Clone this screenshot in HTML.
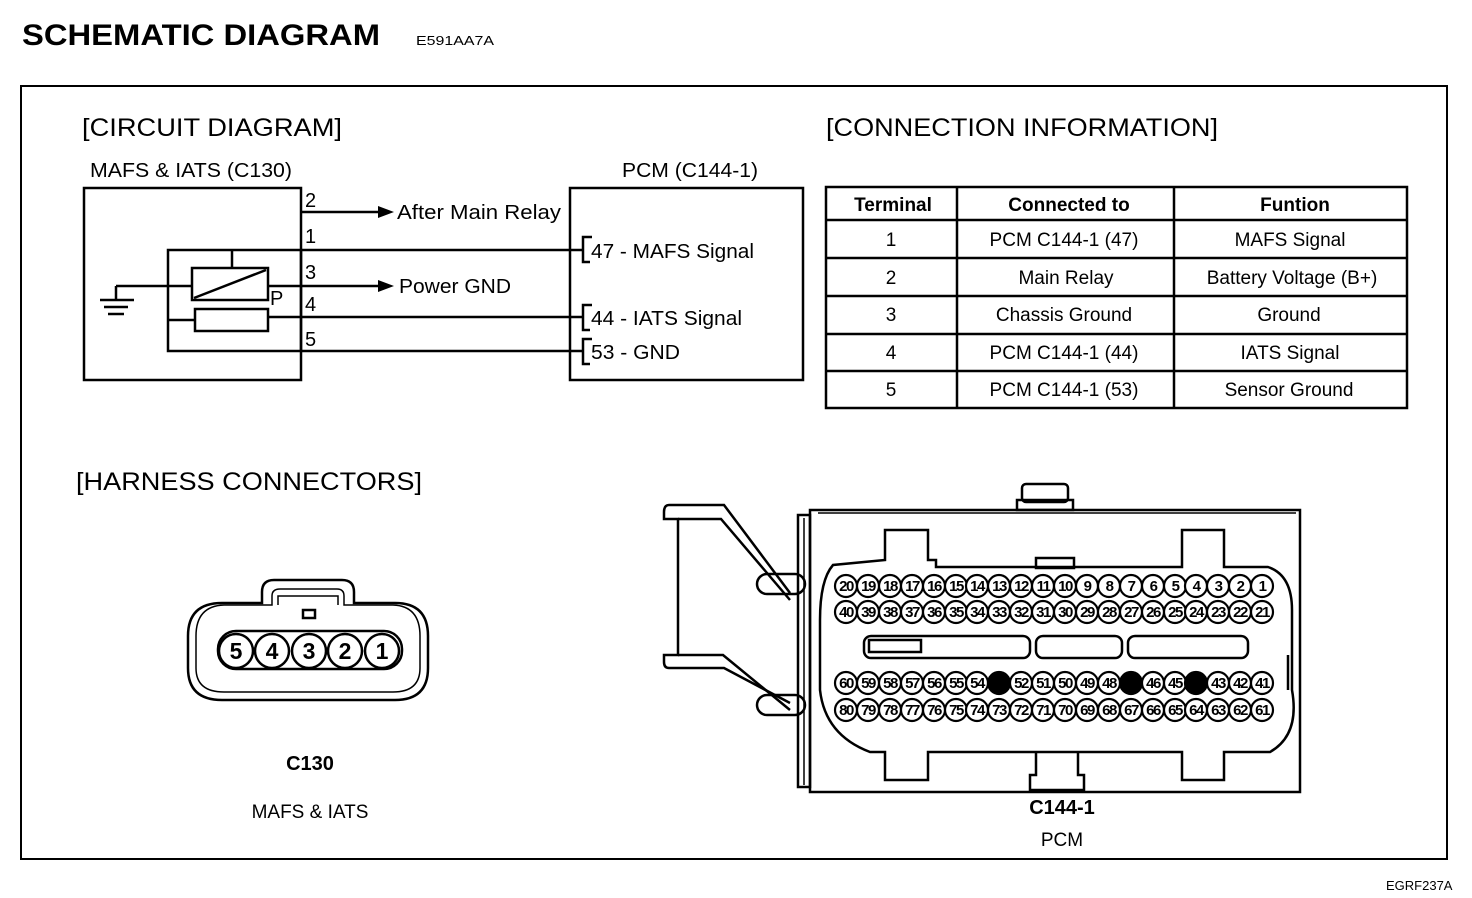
<!DOCTYPE html>
<html><head><meta charset="utf-8"><style>
html,body{margin:0;padding:0;background:#fff;}
svg{display:block;font-family:"Liberation Sans",Arial,sans-serif;}
</style></head><body>
<svg width="1472" height="898" viewBox="0 0 1472 898" xmlns="http://www.w3.org/2000/svg">
<g fill="#000">
<text x="22" y="45" font-size="30" font-weight="bold" textLength="358" lengthAdjust="spacingAndGlyphs">SCHEMATIC DIAGRAM</text>
<text x="416" y="45" font-size="13" textLength="78" lengthAdjust="spacingAndGlyphs">E591AA7A</text>
<text x="1386" y="890" font-size="13">EGRF237A</text>
</g>
<rect x="21" y="86" width="1426" height="773" fill="none" stroke="#000" stroke-width="2"/>
<g fill="#000" font-size="25">
<text x="82" y="136" textLength="260" lengthAdjust="spacingAndGlyphs">[CIRCUIT DIAGRAM]</text>
<text x="826" y="136" textLength="392" lengthAdjust="spacingAndGlyphs">[CONNECTION INFORMATION]</text>
<text x="76" y="490" textLength="346" lengthAdjust="spacingAndGlyphs">[HARNESS CONNECTORS]</text>
</g>
<!-- circuit -->
<g fill="none" stroke="#000" stroke-width="2.5">
<rect x="84" y="188" width="217" height="192"/>
<rect x="168" y="250" width="133" height="101"/>
<line x1="301" y1="212" x2="380" y2="212"/>
<line x1="301" y1="250" x2="583" y2="250"/>
<line x1="232" y1="250" x2="232" y2="268"/>
<rect x="192" y="268" width="76" height="32"/>
<line x1="194" y1="298" x2="266" y2="270"/>
<line x1="268" y1="286" x2="380" y2="286"/>
<line x1="116" y1="286" x2="192" y2="286"/>
<line x1="116" y1="286" x2="116" y2="300"/>
<line x1="100" y1="300" x2="134" y2="300"/>
<line x1="104" y1="307" x2="128" y2="307"/>
<line x1="108" y1="314" x2="124" y2="314"/>
<rect x="195" y="309" width="73" height="22"/>
<line x1="168" y1="320" x2="195" y2="320"/>
<line x1="268" y1="317" x2="583" y2="317"/>
<line x1="301" y1="351" x2="583" y2="351"/>
<rect x="570" y="188" width="233" height="192"/>
<polyline points="592,237 583,237 583,262 590,262"/>
<polyline points="592,305 583,305 583,330 590,330"/>
<polyline points="592,339 583,339 583,364 590,364"/>
</g>
<polygon points="378,206 394,212 378,218" fill="#000"/>
<polygon points="378,280 394,286 378,292" fill="#000"/>
<g fill="#000" font-size="20">
<text x="90" y="177" textLength="202" lengthAdjust="spacingAndGlyphs">MAFS &amp; IATS (C130)</text>
<text x="622" y="177" textLength="136" lengthAdjust="spacingAndGlyphs">PCM (C144-1)</text>
<text x="305" y="207">2</text>
<text x="305" y="243">1</text>
<text x="305" y="279">3</text>
<text x="305" y="311">4</text>
<text x="305" y="346">5</text>
<text x="270" y="305">P</text>
<text x="397" y="219" textLength="164" lengthAdjust="spacingAndGlyphs">After Main Relay</text>
<text x="399" y="293" textLength="112" lengthAdjust="spacingAndGlyphs">Power GND</text>
<text x="591" y="258" textLength="163" lengthAdjust="spacingAndGlyphs">47 - MAFS Signal</text>
<text x="591" y="325" textLength="151" lengthAdjust="spacingAndGlyphs">44 - IATS Signal</text>
<text x="591" y="359" textLength="89" lengthAdjust="spacingAndGlyphs">53 - GND</text>
</g>
<!-- table -->
<g fill="none" stroke="#000" stroke-width="2.5">
<rect x="826" y="187" width="581" height="221"/>
<line x1="826" y1="220" x2="1407" y2="220"/>
<line x1="826" y1="258" x2="1407" y2="258"/>
<line x1="826" y1="296" x2="1407" y2="296"/>
<line x1="826" y1="334" x2="1407" y2="334"/>
<line x1="826" y1="371" x2="1407" y2="371"/>
<line x1="957" y1="187" x2="957" y2="408"/>
<line x1="1174" y1="187" x2="1174" y2="408"/>
</g>
<g fill="#000" font-size="19" text-anchor="middle">
<g font-weight="bold"><text x="893" y="211">Terminal</text><text x="1069" y="211">Connected to</text><text x="1295" y="211">Funtion</text></g>
<text x="891" y="246">1</text><text x="1064" y="246">PCM C144-1 (47)</text><text x="1290" y="246">MAFS Signal</text>
<text x="891" y="284">2</text><text x="1066" y="284">Main Relay</text><text x="1292" y="284">Battery Voltage (B+)</text>
<text x="891" y="321">3</text><text x="1064" y="321">Chassis Ground</text><text x="1289" y="321">Ground</text>
<text x="891" y="359">4</text><text x="1064" y="359">PCM C144-1 (44)</text><text x="1290" y="359">IATS Signal</text>
<text x="891" y="396">5</text><text x="1064" y="396">PCM C144-1 (53)</text><text x="1289" y="396">Sensor Ground</text>
</g>
<!-- C130 -->
<g fill="none" stroke="#000" stroke-width="2.5">
<path d="M262,603 L262,592 Q262,580 274,580 L342,580 Q354,580 354,592 L354,603 L395,603 Q428,603 428,636 L428,668 Q428,700 395,700 L222,700 Q188,700 188,668 L188,636 Q188,603 222,603 Z"/>
<path d="M272,605 L272,596 Q272,589 280,589 L337,589 Q344,589 344,596 L344,605 L393,605 Q420,606 420,636 L420,668 Q420,692 393,692 L224,692 Q196,692 196,668 L196,636 Q196,606 224,605 Z" stroke-width="1.5"/>
<path d="M278,605 L278,596 L338,596 L338,605" stroke-width="1.5"/>
<rect x="303" y="610" width="12" height="8"/>
<rect x="218" y="631" width="184" height="38" rx="18"/>
</g>
<g fill="#fff" stroke="#000" stroke-width="2.5">
<circle cx="236" cy="651" r="17"/><circle cx="272" cy="651" r="17"/><circle cx="309" cy="651" r="17"/><circle cx="345" cy="651" r="17"/><circle cx="382" cy="651" r="17"/>
</g>
<g fill="#000" font-size="23" text-anchor="middle" font-weight="bold">
<text x="236" y="659">5</text><text x="272" y="659">4</text><text x="309" y="659">3</text><text x="345" y="659">2</text><text x="382" y="659">1</text>
</g>
<g fill="#000" text-anchor="middle">
<text x="310" y="770" font-size="20" font-weight="bold">C130</text>
<text x="310" y="818" font-size="19">MAFS &amp; IATS</text>
<text x="1062" y="814" font-size="20" font-weight="bold">C144-1</text>
<text x="1062" y="846" font-size="19">PCM</text>
</g>
<!-- C144-1 -->
<g fill="none" stroke="#000" stroke-width="2.5">
<rect x="1022" y="484" width="46" height="18" rx="4"/>
<rect x="1017" y="500" width="56" height="10"/>
<rect x="810" y="510" width="490" height="282"/>
<line x1="818" y1="513" x2="1296" y2="513" stroke-width="1.5"/>
<rect x="798" y="515" width="12" height="272"/>
<line x1="804" y1="518" x2="804" y2="785" stroke-width="1.5"/>
<path d="M684,505 L669,505 Q664,505 664,512 L664,519 L678,519 L678,655 L664,655 L664,662 Q664,668 669,668 L724,668 L790,703"/>
<path d="M684,505 L724,505 L790,593"/>
<path d="M678,519 L721,519 L790,600" />
<path d="M678,655 L723,655 L790,710"/>
<rect x="757" y="574" width="48" height="20" rx="10"/>
<rect x="757" y="695" width="48" height="20" rx="10"/>
<path d="M885,530 L885,560 L833,565 Q820,580 820,620 L820,690 Q825,735 870,752 L885,752 L885,780 L928,780 L928,752 L1182,752 L1182,780 L1224,780 L1224,752 L1270,752 Q1300,735 1292,690 L1292,610 Q1292,575 1268,567 L1224,567 L1224,530 L1182,530 L1182,567 L936,567 L936,560 L928,560 L928,530 Z"/>
<rect x="1036" y="558" width="38" height="10"/>
<path d="M1036,752 L1036,775 L1030,775 L1030,790 L1084,790 L1084,775 L1078,775 L1078,752"/>
<rect x="864" y="636" width="166" height="22" rx="7"/>
<rect x="869" y="640" width="52" height="12"/>
<rect x="1036" y="636" width="86" height="22" rx="7"/>
<rect x="1128" y="636" width="120" height="22" rx="7"/>
<line x1="1288" y1="655" x2="1288" y2="690"/>
</g>
<g stroke="#000" stroke-width="2.2" fill="#fff">
<g id="r1">
<circle cx="846" cy="586" r="11"/><circle cx="868" cy="586" r="11"/><circle cx="890" cy="586" r="11"/><circle cx="912" cy="586" r="11"/><circle cx="934" cy="586" r="11"/><circle cx="956" cy="586" r="11"/><circle cx="977" cy="586" r="11"/><circle cx="999" cy="586" r="11"/><circle cx="1021" cy="586" r="11"/><circle cx="1043" cy="586" r="11"/><circle cx="1065" cy="586" r="11"/><circle cx="1087" cy="586" r="11"/><circle cx="1109" cy="586" r="11"/><circle cx="1131" cy="586" r="11"/><circle cx="1153" cy="586" r="11"/><circle cx="1175" cy="586" r="11"/><circle cx="1196" cy="586" r="11"/><circle cx="1218" cy="586" r="11"/><circle cx="1240" cy="586" r="11"/><circle cx="1262" cy="586" r="11"/>
</g>
<use href="#r1" y="26"/>
<use href="#r1" y="97"/>
<use href="#r1" y="124"/>
</g>
<g fill="#000"><circle cx="999" cy="683" r="11"/><circle cx="1131" cy="683" r="11"/><circle cx="1196" cy="683" r="11"/></g>
<g fill="#000" font-size="15" text-anchor="middle" letter-spacing="-1.5" font-weight="bold">
<text x="846" y="591">20</text><text x="868" y="591">19</text><text x="890" y="591">18</text><text x="912" y="591">17</text><text x="934" y="591">16</text><text x="956" y="591">15</text><text x="977" y="591">14</text><text x="999" y="591">13</text><text x="1021" y="591">12</text><text x="1043" y="591">11</text><text x="1065" y="591">10</text><text x="1087" y="591">9</text><text x="1109" y="591">8</text><text x="1131" y="591">7</text><text x="1153" y="591">6</text><text x="1175" y="591">5</text><text x="1196" y="591">4</text><text x="1218" y="591">3</text><text x="1240" y="591">2</text><text x="1262" y="591">1</text>
<text x="846" y="617">40</text><text x="868" y="617">39</text><text x="890" y="617">38</text><text x="912" y="617">37</text><text x="934" y="617">36</text><text x="956" y="617">35</text><text x="977" y="617">34</text><text x="999" y="617">33</text><text x="1021" y="617">32</text><text x="1043" y="617">31</text><text x="1065" y="617">30</text><text x="1087" y="617">29</text><text x="1109" y="617">28</text><text x="1131" y="617">27</text><text x="1153" y="617">26</text><text x="1175" y="617">25</text><text x="1196" y="617">24</text><text x="1218" y="617">23</text><text x="1240" y="617">22</text><text x="1262" y="617">21</text>
<text x="846" y="688">60</text><text x="868" y="688">59</text><text x="890" y="688">58</text><text x="912" y="688">57</text><text x="934" y="688">56</text><text x="956" y="688">55</text><text x="977" y="688">54</text><text x="1021" y="688">52</text><text x="1043" y="688">51</text><text x="1065" y="688">50</text><text x="1087" y="688">49</text><text x="1109" y="688">48</text><text x="1153" y="688">46</text><text x="1175" y="688">45</text><text x="1218" y="688">43</text><text x="1240" y="688">42</text><text x="1262" y="688">41</text>
<text x="846" y="715">80</text><text x="868" y="715">79</text><text x="890" y="715">78</text><text x="912" y="715">77</text><text x="934" y="715">76</text><text x="956" y="715">75</text><text x="977" y="715">74</text><text x="999" y="715">73</text><text x="1021" y="715">72</text><text x="1043" y="715">71</text><text x="1065" y="715">70</text><text x="1087" y="715">69</text><text x="1109" y="715">68</text><text x="1131" y="715">67</text><text x="1153" y="715">66</text><text x="1175" y="715">65</text><text x="1196" y="715">64</text><text x="1218" y="715">63</text><text x="1240" y="715">62</text><text x="1262" y="715">61</text>
</g>
</svg>
</body></html>
